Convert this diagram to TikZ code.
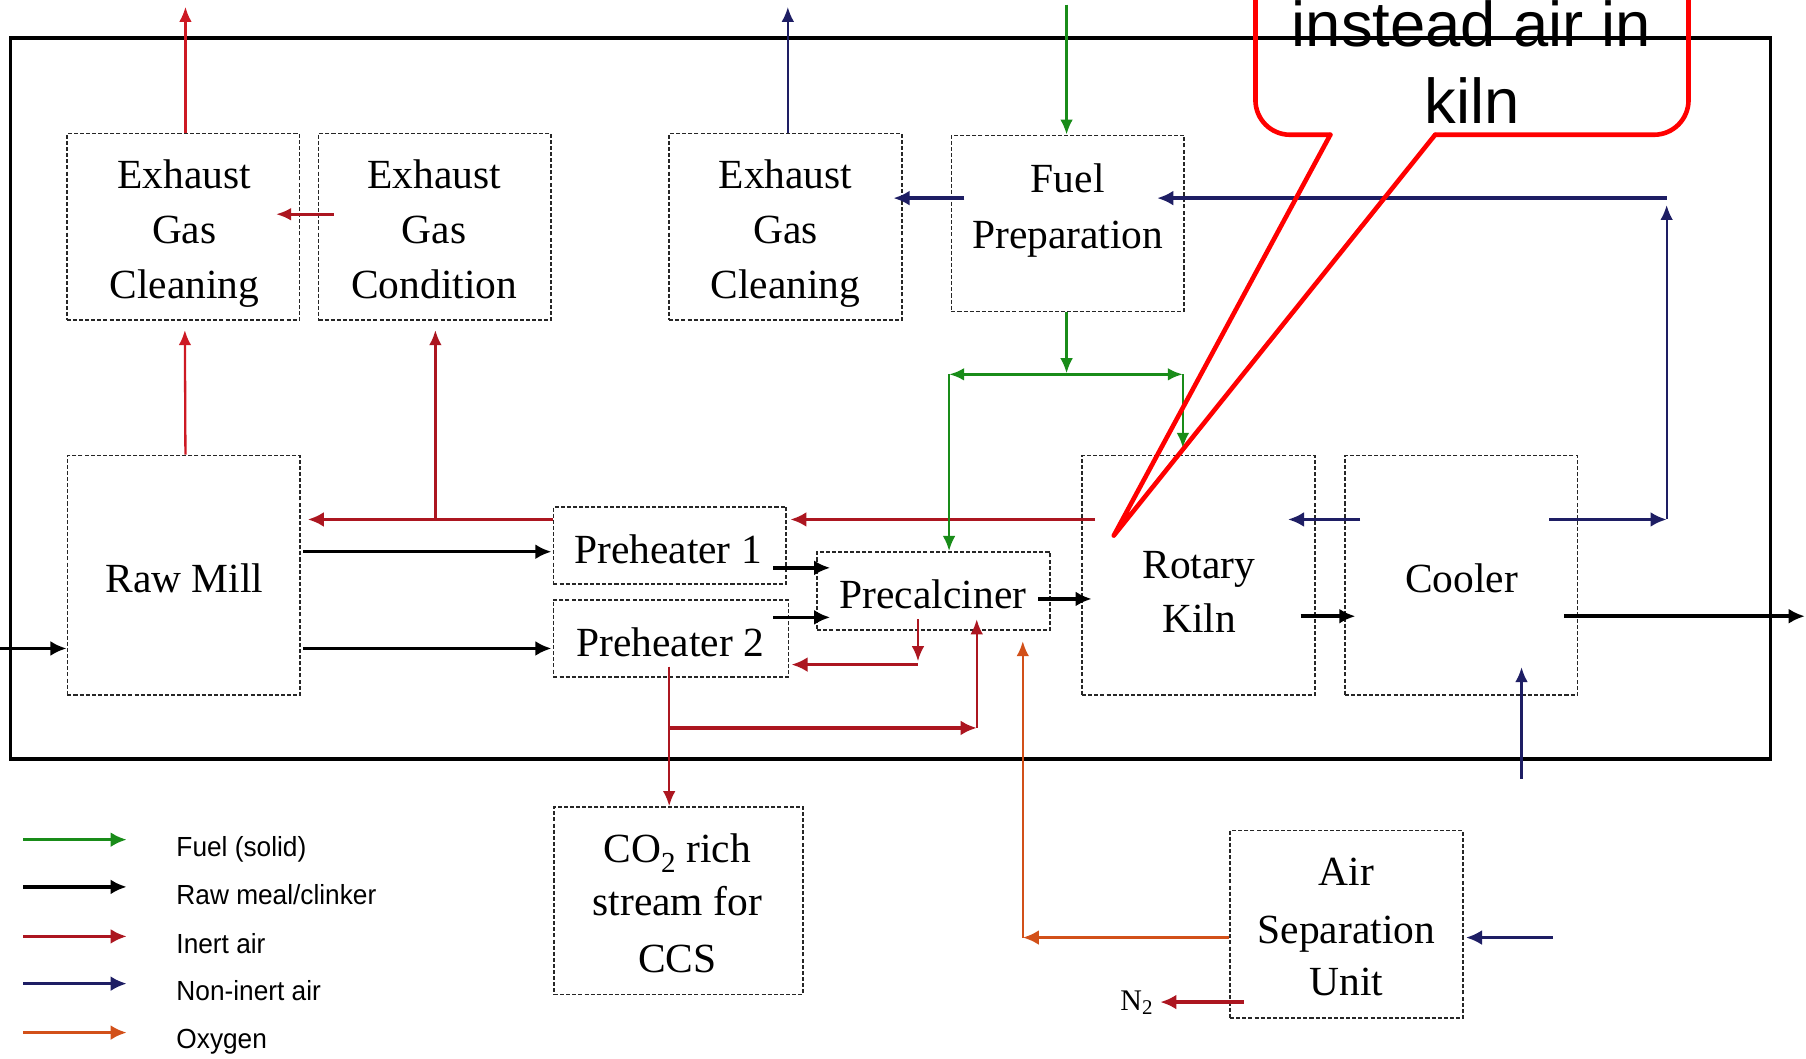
\documentclass[tikz,border=0pt]{standalone}
\usepackage{fontspec}
\setmainfont{Liberation Serif}
\newfontfamily\calloutfont{Liberation Sans}
\newfontfamily\legfont[FakeStretch=0.95]{Liberation Sans}
\usetikzlibrary{arrows.meta,calc}
\definecolor{inertred}{RGB}{172,22,32}
\definecolor{brightred}{RGB}{205,25,35}
\definecolor{navyblue}{RGB}{30,30,100}
\definecolor{fuelgreen}{RGB}{25,140,25}
\definecolor{oxyorange}{RGB}{210,80,25}
\newcommand\bxfont{\fontsize{36}{48}\selectfont}
\begin{document}
\begin{tikzpicture}[x=1pt,y=-1pt,
  box/.style={draw=black!85, line width=1.4pt, dash pattern=on 3.5pt off 1.8pt, inner sep=0pt, minimum width=202pt},
  txt/.style={font=\bxfont, inner sep=0pt, anchor=base},
  leg/.style={font=\legfont\fontsize{24}{28}\selectfont, inner sep=0pt, anchor=base west},
  thk/.style={line width=3pt, -{Latex[length=14pt,width=13pt]}},
  thn/.style={line width=2pt, -{Latex[length=13pt,width=11pt]}},
  callred/.style={draw=red, line width=4pt, line join=round, line cap=round}]
\useasboundingbox (0,0) rectangle (1568,919);
\fill[white] (0,0) rectangle (1568,919);

% outer frame
\draw[line width=2.8pt] (9,33) rectangle (1537,659);

% boxes
\node[box, minimum height=162pt] (egc1) at (159,197) {};
\node[box, minimum height=162pt] (egcon) at (377.5,197) {};
\node[box, minimum height=162pt] (egc2) at (682,197) {};
\node[box, minimum height=153pt] (fp) at (927,194) {};
\node[box, minimum height=208pt] (rm) at (159.5,499.5) {};
\node[box, minimum height=67pt] (ph1) at (581.5,473.5) {};
\node[box, minimum width=204pt, minimum height=67pt] (ph2) at (582.5,554.5) {};
\node[box, minimum height=68pt] (pc) at (810.5,513) {};
\node[box, minimum height=208pt] (rk) at (1040.5,499.5) {};
\node[box, minimum height=208pt] (cl) at (1268.5,499.5) {};
\node[box, minimum width=216pt, minimum height=163pt] (co2) at (589,782) {};
\node[box, minimum height=163pt] (asu) at (1169,802.5) {};

% box texts
\node[txt] (egc1a) at (160,163.5) {Exhaust};
\node[txt] (egc1b) at (160,211) {Gas};
\node[txt] (egc1c) at (160,259) {Cleaning};
\node[txt] (egcona) at (377,163.5) {Exhaust};
\node[txt] (egconb) at (377,211) {Gas};
\node[txt] (egconc) at (377,259) {Condition};
\node[txt] (egc2a) at (682,163.5) {Exhaust};
\node[txt] (egc2b) at (682,211) {Gas};
\node[txt] (egc2c) at (682,259) {Cleaning};
\node[txt] (fpa) at (927,167.5) {Fuel};
\node[txt] (fpb) at (927,215.5) {Preparation};
\node[txt] (rma) at (160,514) {Raw Mill};
\node[txt] (ph1a) at (580,489) {Preheater 1};
\node[txt] (ph2a) at (582,570) {Preheater 2};
\node[txt] (pca) at (810,528) {Precalciner};
\node[txt] (rka) at (1041,502) {Rotary};
\node[txt] (rkb) at (1041,549) {Kiln};
\node[txt] (cla) at (1269,514) {Cooler};
\node[txt] (co2a) at (588,749) {CO\textsubscript{2} rich};
\node[txt] (co2b) at (588,794.5) {stream for};
\node[txt] (co2c) at (588,844.5) {CCS};
\node[txt] (asua) at (1169,768.5) {Air};
\node[txt] (asub) at (1169,819) {Separation};
\node[txt] (asuc) at (1169,864) {Unit};
\node[font=\fontsize{26}{30}\selectfont, inner sep=0pt, anchor=base] (n2) at (987,877) {N\textsubscript{2}};

% named free ends and junctions
\coordinate (top1) at (161,6);
\coordinate (top2) at (684,6);
\coordinate (topF) at (926,4);
\coordinate (j1) at (378,451);
\coordinate (fS) at (926,325);
\coordinate (fL) at (824,325);
\coordinate (fR) at (1027,325);
\coordinate (inL) at (0,563);
\coordinate (outR) at (1567,535);
\coordinate (cR) at (1447,451);
\coordinate (cT) at (1447,172);
\coordinate (airC) at (1321,676);
\coordinate (airA) at (1348,814);
\coordinate (lC) at (797,577);
\coordinate (j2) at (581,632);
\coordinate (j3) at (848,632);
\coordinate (oC) at (888,814);
\coordinate (n2a) at (1080,870);

% top outlets / inlet
\draw[brightred, thn] ($(egc1.north)+(2,0)$) -- (top1);
\draw[navyblue, thn] ($(egc2.north)+(2,0)$) -- (top2);
\draw[fuelgreen, thn] (topF) -- ($(fp.north)+(-1,0)$);

% inert air (red)
\draw[brightred, thn] ($(rm.north)+(1.5,0)$) -- ($(egc1.south)+(1.5,8)$);
\draw[inertred, thn] (j1) -- ($(egcon.south)+(0.5,8)$);
\draw[inertred, thk] (ph1.west |- j1) -- ($(rm.east |- j1)+(6,0)$);
\draw[inertred, thk] ($(rk.west |- j1)+(12,0)$) -- ($(ph1.east |- j1)+(3,0)$);
\draw[inertred, line width=2.2pt, -{Latex[length=13pt,width=11pt]}] ($(egcon.west)+(14,-11)$) -- ($(egc1.east)+(-21,-11)$);
\draw[inertred, thn] ($(pc.south)+(-13.5,-10)$) -- ($(lC)+(0,-3)$);
\draw[inertred, thk] (lC) -- ($(ph2.east |- lC)+(2,0)$);
\draw[inertred, thn] ($(ph2.south)+(-1.5,-10)$) -- (co2.north -| j2);
\draw[inertred, thk] (j2) -- (j3);
\draw[inertred, thn] (j3) -- ($(pc.south)+(37.5,-10)$);
\draw[inertred, thk] (n2a) -- ($(n2a -| n2.east)+(6,0)$);

% non-inert air (navy)
\draw[navyblue, thk] ($(fp.west)+(12,-22)$) -- ($(egc2.east)+(-8,-25)$);
\draw[navyblue, thk] ($(cl.west)+(14,-48.5)$) -- ($(rk.east)+(-24,-48.5)$);
\draw[navyblue, thk] ($(cl.east)+(-25,-48.5)$) -- (cR);
\draw[navyblue, thn] (cR) -- ($(cT)+(0,6)$);
\draw[navyblue, thk] (cT) -- ($(fp.east |- cT)+(-24,0)$);
\draw[navyblue, thn] (airC) -- ($(cl.south)+(52.5,-25)$);
\draw[navyblue, thk] (airA) -- ($(asu.east)+(2,11.5)$);

% fuel (green)
\draw[fuelgreen, thn] ($(fp.south)+(-1,0)$) -- ($(fS)+(0,-1)$);
\draw[fuelgreen, line width=2.6pt, {Latex[length=13pt,width=11pt]}-{Latex[length=13pt,width=11pt]}] (fL) -- (fR);
\draw[fuelgreen, thn] (fL) -- (fL |- pc.north);
\draw[fuelgreen, thn] (fR) -- ($(fR |- rk.north)+(0,-6)$);

% raw meal / clinker (black)
\draw[black, thk] (inL) -- (inL -| rm.west);
\draw[black, thk] ($(rm.east)+(2,-20.5)$) -- ($(ph1.west)+(-1,5.5)$);
\draw[black, thk] ($(rm.east)+(2,63.5)$) -- ($(ph2.west)+(-1,8.5)$);
\draw[black, thk] ($(ph1.east)+(-12,19.5)$) -- ($(pc.west)+(12,-20)$);
\draw[black, thk] ($(ph2.east)+(-14,-18.5)$) -- ($(pc.west)+(12,23)$);
\draw[black, thk] ($(pc.east)+(-11,7)$) -- ($(rk.west)+(9,20.5)$);
\draw[black, thk] ($(rk.east)+(-13,35.5)$) -- ($(cl.west)+(10,35.5)$);
\draw[black, thk] ($(cl.east)+(-12,35.5)$) -- (outR);

% oxygen (orange)
\draw[oxyorange, thk] ($(asu.west)+(0,11.5)$) -- (oC);
\draw[oxyorange, thn] (oC) -- ($(pc.south)+(77.5,9)$);

% legend
\node[leg] (t1) at (153,744) {Fuel (solid)};
\node[leg] (t2) at (153,785) {Raw meal/clinker};
\node[leg] (t3) at (153,828) {Inert air};
\node[leg] (t4) at (153,869) {Non-inert air};
\node[leg] (t5) at (153,910) {Oxygen};
\draw[fuelgreen, thk] ($(t1.base west)+(-133,-15)$) -- ($(t1.base west)+(-43,-15)$);
\draw[black, thk] ($(t2.base west)+(-133,-15)$) -- ($(t2.base west)+(-43,-15)$);
\draw[inertred, thk] ($(t3.base west)+(-133,-15)$) -- ($(t3.base west)+(-43,-15)$);
\draw[navyblue, thk] ($(t4.base west)+(-133,-15)$) -- ($(t4.base west)+(-43,-15)$);
\draw[oxyorange, thk] ($(t5.base west)+(-133,-13.5)$) -- ($(t5.base west)+(-43,-13.5)$);

% callout
\draw[callred, rounded corners=30pt] (1155,117) -- (1090,117) -- (1090,-60);
\draw[callred, rounded corners=30pt] (1246,117) -- (1466,117) -- (1466,-60);
\draw[callred] (1155,117) -- (967,465) -- (1246,117);
\node[font=\calloutfont\fontsize{55}{66}\selectfont, inner sep=0pt, anchor=base] (note1) at (1277.5,40.5) {instead air in};
\node[font=\calloutfont\fontsize{55}{66}\selectfont, inner sep=0pt, anchor=base] (note2) at (1278,107) {kiln};
\end{tikzpicture}
\end{document}
